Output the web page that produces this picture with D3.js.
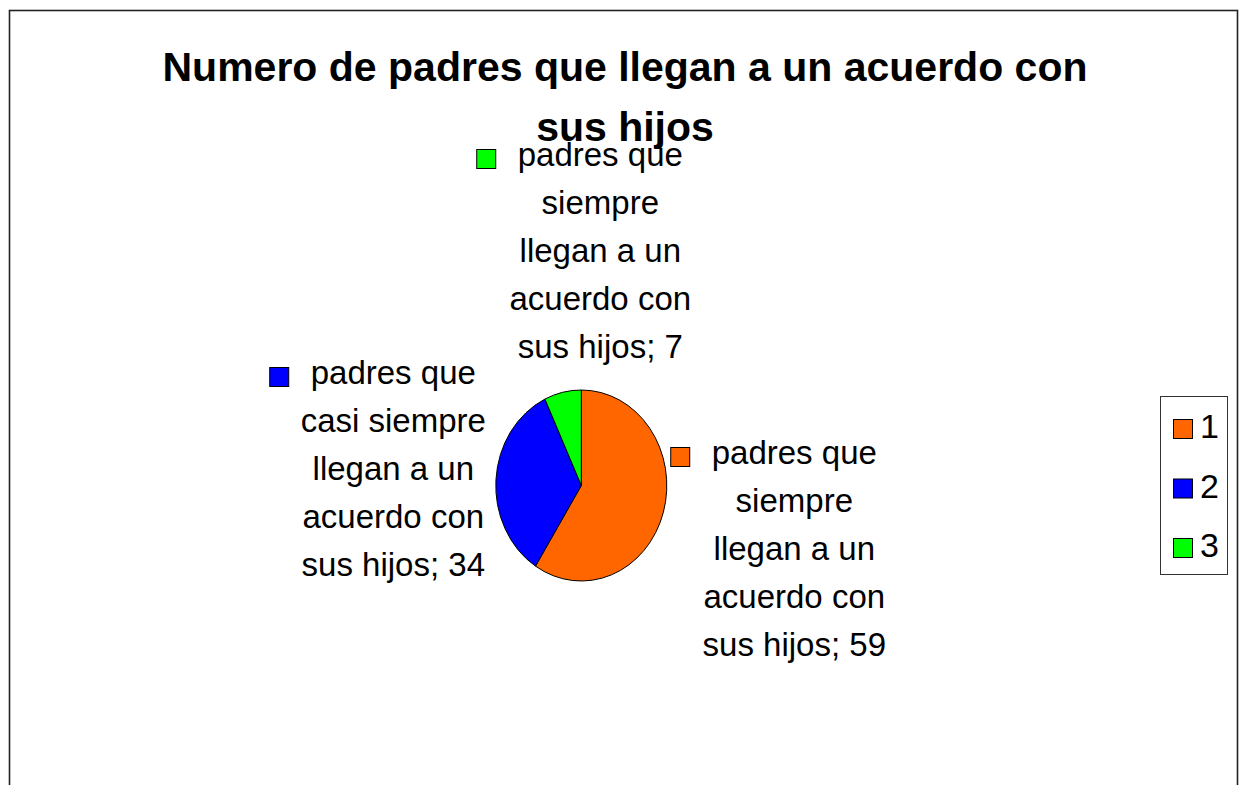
<!DOCTYPE html>
<html>
<head>
<meta charset="utf-8">
<script src="https://cdn.jsdelivr.net/npm/d3@7"></script>
<style>
  body { margin: 0; background: #fff; }
  svg { display: block; font-family: "Liberation Sans", Arial, sans-serif; }
</style>
</head>
<body>
<div class="chart"></div>
<script>
// data
var categories = [
  "padres que siempre llegan a un acuerdo con sus hijos",
  "padres que casi siempre llegan a un acuerdo con sus hijos",
  "padres que siempre llegan a un acuerdo con sus hijos"
];
var values = [59, 34, 7];
var legendLabels = ["1", "2", "3"];
var colors = ["#FF6600", "#0000FF", "#00FF00"];
var titleLines = ["Numero de padres que llegan a un acuerdo con", "sus hijos"];

var width = 1242, height = 785;
var svg = d3.select("div.chart").append("svg")
  .attr("width", width)
  .attr("height", height);

// outer frame (bottom edge runs off the page)
svg.append("rect")
  .attr("x", 9.5).attr("y", 10.5)
  .attr("width", 1228).attr("height", 800)
  .attr("fill", "#fff")
  .attr("stroke", "#222")
  .attr("stroke-width", 1.6);

// title
svg.append("g").selectAll("text")
  .data(titleLines).enter()
  .append("text")
  .attr("x", 625)
  .attr("y", function (d, i) { return 81 + i * 60; })
  .attr("text-anchor", "middle")
  .style("font-size", "41px")
  .style("font-weight", "bold")
  .text(function (d) { return d; });

// pie (drawn a bit taller than wide, like the original)
var cx = 581.3, cy = 485.5, rx = 85.5, ry = 95.5;
var pie = d3.pie().sort(null).value(function (d) { return d; });
var arcs = pie(values);
var arc = d3.arc().innerRadius(0).outerRadius(rx);

var pieG = svg.append("g")
  .attr("transform", "translate(" + cx + "," + cy + ") scale(1," + (ry / rx) + ")");
pieG.selectAll("path")
  .data(arcs).enter()
  .append("path")
  .attr("d", arc)
  .attr("fill", function (d, i) { return colors[i]; })
  .attr("stroke", "#000")
  .attr("stroke-width", 1)
  .attr("vector-effect", "non-scaling-stroke");

// data labels: text column centre x and first baseline, relative to the pie centre
var labelPos = [[213, -21.5], [-188, -101.5], [19, -319.5]];
var lineH = 48, maxW = 195, keySize = 19;

arcs.forEach(function (a, i) {
  var g = svg.append("g");
  var words = (categories[i] + "; " + values[i]).split(" ");
  var lines = [], cur = "";
  var probe = g.append("text").style("font-size", "33px");
  words.forEach(function (w) {
    var test = cur ? cur + " " + w : w;
    probe.text(test);
    if (probe.node().getComputedTextLength() > maxW && cur) {
      lines.push(cur);
      cur = w;
    } else {
      cur = test;
    }
  });
  lines.push(cur);
  probe.text(lines[0]);
  var firstW = probe.node().getComputedTextLength();
  probe.remove();

  var tx = cx + labelPos[i][0], ty = cy + labelPos[i][1];
  g.selectAll("text")
    .data(lines).enter()
    .append("text")
    .attr("x", tx)
    .attr("y", function (d, k) { return ty + k * lineH; })
    .attr("text-anchor", "middle")
    .style("font-size", "33px")
    .style("fill", "#000")
    .text(function (d) { return d; });

  g.append("rect")
    .attr("x", tx - firstW / 2 - 22 - keySize)
    .attr("y", ty - 7 - keySize / 2)
    .attr("width", keySize).attr("height", keySize)
    .attr("fill", colors[i])
    .attr("stroke", "#000")
    .attr("stroke-width", 1);
});

// legend
var legend = svg.append("g");
legend.append("rect")
  .attr("x", 1160.5).attr("y", 396.5)
  .attr("width", 67).attr("height", 178)
  .attr("fill", "#fff")
  .attr("stroke", "#333")
  .attr("stroke-width", 1);

var items = legend.selectAll("g.item")
  .data(legendLabels).enter()
  .append("g")
  .attr("class", "item")
  .attr("transform", function (d, i) { return "translate(0," + (i * 59.5) + ")"; });
items.append("rect")
  .attr("x", 1173.5).attr("y", 419.5)
  .attr("width", keySize).attr("height", keySize)
  .attr("fill", function (d, i) { return colors[i]; })
  .attr("stroke", "#000")
  .attr("stroke-width", 1);
items.append("text")
  .attr("x", 1200)
  .attr("y", 438)
  .style("font-size", "34px")
  .text(function (d) { return d; });
</script>
</body>
</html>
